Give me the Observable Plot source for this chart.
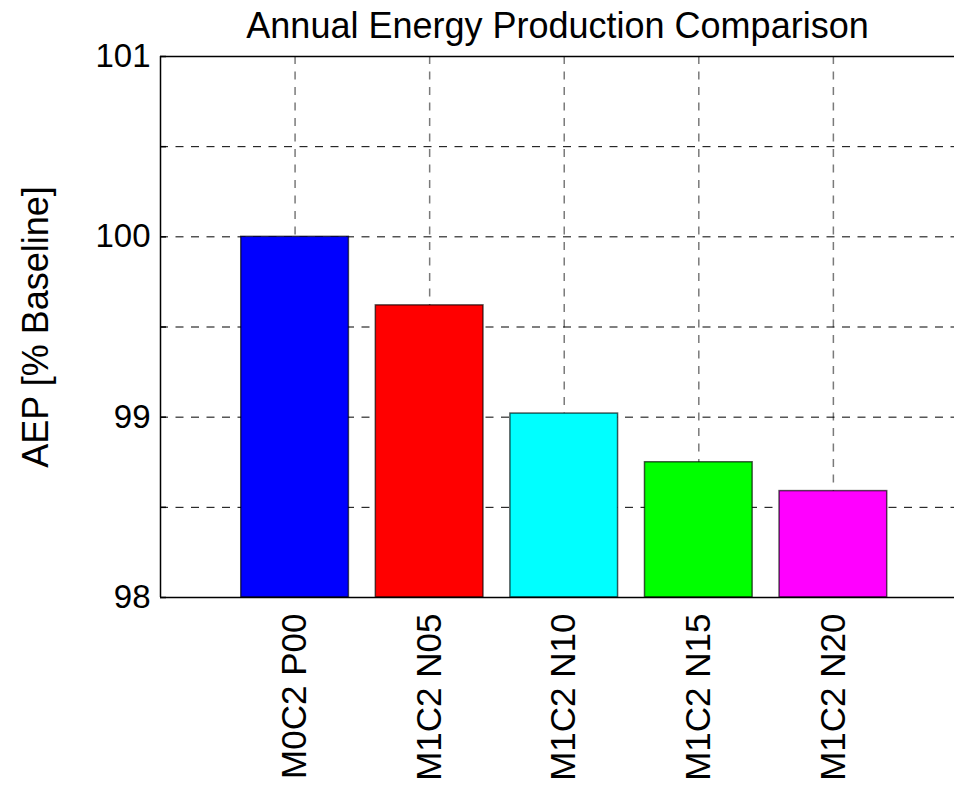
<!DOCTYPE html>
<html>
<head>
<meta charset="utf-8">
<script src="https://cdn.jsdelivr.net/npm/d3@7"></script>
<script src="https://cdn.jsdelivr.net/npm/@observablehq/plot@0.6"></script>
<style>
  html, body { margin: 0; padding: 0; background: #fff; }
</style>
</head>
<body>
<div id="chart"></div>
<script>
const title = "Annual Energy Production Comparison";
const yLabel = "AEP [% Baseline]";
const categories = ["M0C2 P00", "M1C2 N05", "M1C2 N10", "M1C2 N15", "M1C2 N20"];
const values = [100.0, 99.62, 99.02, 98.75, 98.59];
const colors = ["#0000ff", "#ff0000", "#00ffff", "#00ff00", "#ff00ff"];
const positions = [1, 2, 3, 4, 5];
const yTicks = [98, 98.5, 99, 99.5, 100, 100.5, 101];
const yGrid = [98.5, 99, 99.5, 100, 100.5];
const yBase = 98;

const data = categories.map((c, i) => ({category: c, pos: positions[i], value: values[i], color: colors[i]}));

const dash = "8,7.5";

const chart = Plot.plot({
  width: 956,
  height: 785,
  marginLeft: 160,
  marginRight: 2,
  marginTop: 56,
  marginBottom: 188,
  style: {fontFamily: "'Liberation Sans', Helvetica, Arial, sans-serif", fontSize: "33px", color: "black", background: "white"},
  x: {domain: [0, 5.9], axis: null},
  y: {domain: [98, 101], axis: null},
  marks: [
    Plot.ruleX(positions, {stroke: "#7a7a7a", strokeWidth: 1.5, strokeDasharray: dash}),
    Plot.ruleY(yGrid, {stroke: "black", strokeWidth: 1, strokeDasharray: dash}),
    Plot.rect(data, {
      x1: d => d.pos - 0.4,
      x2: d => d.pos + 0.4,
      y1: yBase,
      y2: "value",
      fill: d => d.color,
      stroke: "black",
      strokeOpacity: 0.65,
      strokeWidth: 1.5
    }),
    Plot.ruleY([98], {stroke: "black", strokeWidth: 1.5}),
    Plot.ruleY([101], {stroke: "black", strokeWidth: 1.5}),
    Plot.ruleX([0], {stroke: "black", strokeWidth: 1.5}),
    Plot.axisY({
      ticks: yTicks,
      tickSize: -6,
      tickPadding: 16,
      tickFormat: d => Number.isInteger(d) ? String(d) : "",
      fontSize: 33,
      strokeWidth: 1.5,
      label: null
    }),
    Plot.axisY({
      ticks: [],
      tickSize: 0,
      fontSize: 36,
      label: yLabel,
      labelAnchor: "center",
      labelOffset: 138,
      labelArrow: "none"
    }),
    Plot.axisX({
      ticks: positions,
      tickSize: 0,
      tickPadding: 16,
      tickRotate: -90,
      tickFormat: d => categories[positions.indexOf(d)],
      fontSize: 35,
      label: null
    }),
    Plot.text([title], {frameAnchor: "top", dy: -19, lineAnchor: "bottom", fontSize: 36, fill: "black"})
  ]
});

document.getElementById("chart").appendChild(chart);
</script>
</body>
</html>
